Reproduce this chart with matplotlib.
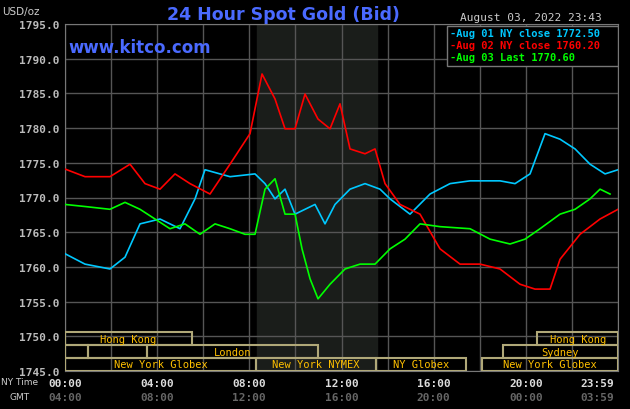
import numpy as np
import matplotlib
matplotlib.use('Agg')
import matplotlib.pyplot as plt
from matplotlib.patches import Rectangle

# NY time hours (px converted) and prices
blue_px = [65, 85, 110, 125, 140, 160, 180, 195, 205, 230, 255, 265, 275, 285, 295, 305,
           315, 325, 335, 350, 365, 380, 390, 410, 430, 450, 470, 500, 515, 530, 545, 560,
           575, 590, 605, 618]
blue_val = [1761.9, 1760.4, 1759.7, 1761.4, 1766.2, 1766.9, 1765.5, 1769.8, 1774.0, 1773.0,
            1773.4, 1772.0, 1769.8, 1771.2, 1767.6, 1768.3, 1769.0, 1766.2, 1769.0, 1771.2,
            1772.0, 1771.2, 1769.8, 1767.6, 1770.5, 1772.0, 1772.4, 1772.4, 1772.0, 1773.4,
            1779.2, 1778.4, 1777.0, 1774.8, 1773.4, 1774.0]
red_px = [65, 85, 110, 130, 145, 160, 175, 190, 210, 230, 250, 262, 275, 285, 295, 305,
          318, 330, 340, 350, 365, 375, 385, 400, 420, 440, 460, 480, 500, 520, 535, 550,
          560, 580, 600, 618]
red_val = [1774.1, 1773.0, 1773.0, 1774.8, 1772.0, 1771.2, 1773.4, 1772.0, 1770.5, 1774.8,
           1779.2, 1787.8, 1784.2, 1779.9, 1779.9, 1784.9, 1781.3, 1779.9, 1783.5, 1777.0,
           1776.3, 1777.0, 1772.0, 1769.0, 1767.6, 1762.6, 1760.4, 1760.4, 1759.7, 1757.5,
           1756.8, 1756.8, 1761.1, 1764.7, 1766.9, 1768.3]
green_px = [65, 85, 110, 125, 140, 155, 170, 185, 200, 215, 230, 245, 255, 265, 275, 285,
            295, 302, 310, 318, 330, 345, 360, 375, 390, 405, 420, 440, 470, 490, 510, 525,
            540, 560, 575, 590, 600, 610]
green_val = [1769.0, 1768.7, 1768.3, 1769.3, 1768.3, 1766.9, 1765.5, 1766.2, 1764.7, 1766.2,
             1765.5, 1764.7, 1764.7, 1771.2, 1772.7, 1767.6, 1767.6, 1762.6, 1758.3, 1755.4,
             1757.5, 1759.7, 1760.4, 1760.4, 1762.6, 1764.0, 1766.2, 1765.8, 1765.5, 1764.0,
             1763.3, 1764.0, 1765.5, 1767.6, 1768.3, 1769.8, 1771.2, 1770.5]

x_ticks = [0, 4, 8, 12, 16, 20, 23.983]
ny_labels = ['00:00', '04:00', '08:00', '12:00', '16:00', '20:00', '23:59']
gmt_labels = ['04:00', '08:00', '12:00', '16:00', '20:00', '00:00', '03:59']
legend_txt = ['Aug 01 NY close 1772.50', 'Aug 02 NY close 1760.20', 'Aug 03 Last 1770.60']
colors = ['#00c8ff', '#ff0000', '#00ff00']

# session rows: (label, start h, end h, row)
sessions = [('Hong Kong', 0, 5.5, 0), ('Hong Kong', 20.5, 24, 0),
            ('', 0, 1, 1), ('', 1, 3.55, 1), ('London', 3.55, 11, 1), ('Sydney', 19, 24, 1),
            ('New York Globex', 0, 8.3, 2), ('New York NYMEX', 8.3, 13.5, 2),
            ('NY Globex', 13.5, 17.4, 2), ('New York Globex', 18.1, 24, 2)]
row_y = [(1748.7, 1750.6), (1746.9, 1748.7), (1745.0, 1746.9)]

def tohours(px):
    return (np.array(px) - 65) / 23.04

fig = plt.figure(figsize=(6.3, 4.1), dpi=100, facecolor='black')
ax = fig.add_axes([65/630, 1-372/410, 553/630, 347/410], facecolor='black')
mono = 'DejaVu Sans Mono'

ax.axvspan(8.35, 13.55, color='#1a1d1a', zorder=0)
ax.set_xlim(0, 24)
ax.set_ylim(1745, 1795)
ax.set_xticks(np.arange(0, 25, 2))
ax.set_yticks(np.arange(1745, 1796, 5))
ax.grid(True, color='#555555', lw=1)
ax.tick_params(length=0, labelbottom=False, colors='#bbbbbb', pad=4)
ax.set_yticklabels(['%.1f' % v for v in np.arange(1745, 1796, 5)],
                   fontsize=8, family=mono, fontweight='bold')
for s in ax.spines.values():
    s.set_color('#777777')

for px, val, c in [(blue_px, blue_val, colors[0]), (red_px, red_val, colors[1]),
                   (green_px, green_val, colors[2])]:
    ax.plot(tohours(px), val, color=c, lw=1.2, zorder=3)

for name, a, b, r in sessions:
    y0, y1 = row_y[r]
    ax.add_patch(Rectangle((a, y0), b - a, y1 - y0, fill=False, ec='#b0a878', lw=1.5, zorder=4))
    if name:
        ax.text((a + b) / 2, (y0 + y1) / 2, name, color='#ffc000', ha='center', va='center',
                fontsize=7.5, family=mono, zorder=5)

for x, n, g in zip(x_ticks, ny_labels, gmt_labels):
    xx = min(x, 23.1)
    ax.text(xx, -0.035, n, transform=ax.get_xaxis_transform(), ha='center', va='center',
            color='#dddddd', fontsize=8, family=mono, fontweight='bold')
    ax.text(xx, -0.075, g, transform=ax.get_xaxis_transform(), ha='center', va='center',
            color='#666666', fontsize=8, family=mono, fontweight='bold')
fig.text(1/630, 1-383/410, 'NY Time', color='#cccccc', fontsize=6.5, va='center')
fig.text(10/630, 1-398/410, 'GMT', color='#cccccc', fontsize=6.5, va='center')

fig.text(0.45, 1-15/410, '24 Hour Spot Gold (Bid)', color='#4a6aff', fontsize=12.5,
         fontweight='bold', ha='center', va='center')
fig.text(2/630, 1-12/410, 'USD/oz', color='#cccccc', fontsize=7.5, va='center')
fig.text(460/630, 1-18/410, 'August 03, 2022 23:43', color='#cccccc', fontsize=8,
         family=mono, va='center')
fig.text(68/630, 1-48/410, 'www.kitco.com', color='#4a6aff', fontsize=12,
         fontweight='bold', va='center')

ax.add_patch(Rectangle((447/630, 1-67/410), 171/630, 40/410, transform=fig.transFigure,
                       fill=True, fc='black', ec='#777777', lw=1, zorder=6))
for i, (t, c) in enumerate(zip(legend_txt, colors)):
    fig.text(450/630, 1-(34 + i * 12)/410, '-' + t, color=c, fontsize=7.5, family=mono,
             fontweight='bold', va='center', zorder=7)

fig.savefig('out.png', dpi=100, facecolor='black')
